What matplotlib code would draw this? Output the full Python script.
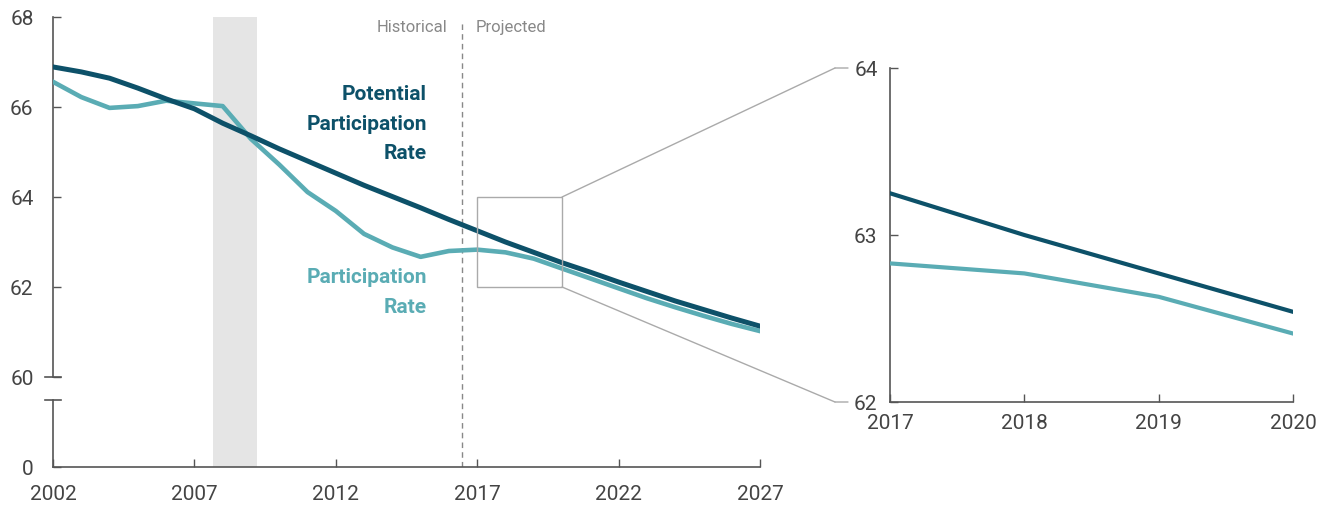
import matplotlib
matplotlib.use('Agg')
import matplotlib.pyplot as plt
import matplotlib.transforms as mtransforms
from matplotlib.patches import Rectangle, ConnectionPatch

plt.rcParams['font.family'] = ['Roboto', 'DejaVu Sans']

# data
years = list(range(2002, 2028))
potential_rate = [66.89, 66.78, 66.64, 66.42, 66.18, 65.96, 65.64, 65.36, 65.07, 64.80,
                  64.53, 64.26, 64.01, 63.76, 63.50, 63.25, 63.00, 62.77, 62.54, 62.33,
                  62.11, 61.90, 61.69, 61.50, 61.31, 61.13]
participation_rate = [66.56, 66.22, 65.98, 66.02, 66.14, 66.08, 66.02, 65.29, 64.72, 64.11,
                      63.69, 63.18, 62.88, 62.67, 62.80, 62.83, 62.77, 62.63, 62.41, 62.19,
                      61.97, 61.75, 61.55, 61.36, 61.18, 61.02]
recession = (2007.66, 2009.21)
projection_start = 2016.46
zoom_years = (2017, 2020)
zoom_range = (62, 64)

left_ticks_x = [2002, 2007, 2012, 2017, 2022, 2027]
left_ticks_y = [58, 60, 62, 64, 66, 68]
left_tick_labels_y = ['0', '60', '62', '64', '66', '68']
right_ticks_x = [2017, 2018, 2019, 2020]
right_ticks_y = [62, 63, 64]

dark = '#0d5169'
light = '#5aacb4'
axis_color = '#555555'
text_color = '#444444'
gray = '#aaaaaa'

fig = plt.figure(figsize=(13.28, 5.06), dpi=100, facecolor='white')
ax1 = fig.add_axes([53/1328, 1-468/506, 707/1328, 450/506])
ax2 = fig.add_axes([890/1328, 1-403/506, 403/1328, 334/506])

# ---- left panel (broken y axis: 0 drawn at 58) ----
ax1.axvspan(*recession, color='#e5e5e5', lw=0, zorder=0)
ax1.axvline(projection_start, color='#888888', lw=1, ls=(0, (4, 3)), ymax=0.99)
ax1.plot(years, participation_rate, color=light, lw=3.3, zorder=3)
ax1.plot(years, potential_rate, color=dark, lw=3.6, zorder=4)
ax1.add_patch(Rectangle((zoom_years[0], zoom_range[0]), zoom_years[1]-zoom_years[0],
                        zoom_range[1]-zoom_range[0], fill=False, ec=gray, lw=1, zorder=5))

ax1.set_xlim(2002, 2027)
ax1.set_ylim(58, 68)
ax1.set_xticks(left_ticks_x)
ax1.set_yticks(left_ticks_y)
ax1.set_yticklabels(left_tick_labels_y)
for s in ['top', 'right']:
    ax1.spines[s].set_visible(False)
for s in ['left', 'bottom']:
    ax1.spines[s].set_color(axis_color)
    ax1.spines[s].set_linewidth(1.2)
ax1.spines['left'].set_bounds(60, 68)
ax1.tick_params(direction='in', length=6, width=1, color=axis_color,
                labelsize=15, labelcolor=text_color)
ax1.tick_params(axis='y', pad=14)
ax1.tick_params(axis='x', pad=12)

# lower spine piece and break caps
blend = mtransforms.blended_transform_factory(ax1.transAxes, ax1.transData)
ax1.plot([0, 0], [58, 59.5], color=axis_color, lw=1.2, transform=blend, clip_on=False)
for yb in [60, 59.5]:
    ax1.plot([-0.011, 0.011], [yb, yb], color=axis_color, lw=1.2, transform=blend, clip_on=False)

ax1.text(projection_start - 0.5, 67.78, 'Historical', ha='right', va='center',
         fontsize=12, color='#888888')
ax1.text(projection_start + 0.5, 67.78, 'Projected', ha='left', va='center',
         fontsize=12, color='#888888')
ax1.text(2015.22, 65.64, 'Potential\nParticipation\nRate', ha='right', va='center',
         fontsize=15, fontweight='bold', color=dark, linespacing=1.7)
ax1.text(2015.22, 61.9, 'Participation\nRate', ha='right', va='center',
         fontsize=15, fontweight='bold', color=light, linespacing=1.7)

# ---- right panel (zoom) ----
ax2.plot(years, participation_rate, color=light, lw=3, zorder=3)
ax2.plot(years, potential_rate, color=dark, lw=3, zorder=4)
ax2.set_xlim(*zoom_years)
ax2.set_ylim(*zoom_range)
ax2.set_xticks(right_ticks_x)
ax2.set_yticks(right_ticks_y)
for s in ['top', 'right']:
    ax2.spines[s].set_visible(False)
for s in ['left', 'bottom']:
    ax2.spines[s].set_color(axis_color)
    ax2.spines[s].set_linewidth(1.2)
ax2.tick_params(direction='in', length=6, width=1, color=axis_color,
                labelsize=15, labelcolor=text_color)
ax2.tick_params(axis='y', pad=9)
ax2.tick_params(axis='x', pad=8)

# connector lines from zoom box to right panel
elbow_x = -55/403
stub_x = -42/403
for yv, ya in [(zoom_range[1], 1), (zoom_range[0], 0)]:
    fig.add_artist(ConnectionPatch(xyA=(zoom_years[1], yv), coordsA=ax1.transData,
                                   xyB=(elbow_x, ya), coordsB=ax2.transAxes,
                                   color=gray, lw=1))
    fig.add_artist(ConnectionPatch(xyA=(elbow_x, ya), coordsA=ax2.transAxes,
                                   xyB=(stub_x, ya), coordsB=ax2.transAxes,
                                   color=gray, lw=1))

fig.savefig('out.png', dpi=100, facecolor='white')
